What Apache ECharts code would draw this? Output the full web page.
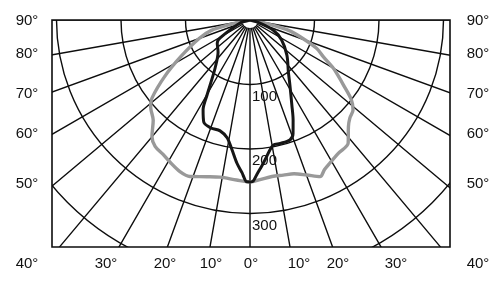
<!DOCTYPE html>
<html><head><meta charset="utf-8">
<script src="https://cdn.jsdelivr.net/npm/echarts/dist/echarts.min.js"></script>
<style>html,body{margin:0;padding:0;background:#fff}#c{width:500px;height:293px}</style>
</head><body><div id="c"></div>
<script>
// ---- data ----
const radialTicks = [100, 200, 300];
const sideLabels = ['90°', '80°', '70°', '60°', '50°', '40°'];
const bottomLabels = ['30°', '20°', '10°', '0°', '10°', '20°', '30°'];

const grayAngles = [-80, -77, -75, -70, -62, -56.6, -51.5, -48.7, -44, -40.1, -36.9, -33, -29.3, -24.8, -21, -15.4, -10.8, -4.8, 0,
  3.6, 8, 12.1, 16, 20.1, 24.1, 26.5, 29.2, 33.5, 38.6, 42.7, 45.5, 48.9, 51.8, 55.1, 58, 60, 63.4, 67, 71.5, 75, 77, 80];
const grayValues = [0, 34, 62, 84, 122, 158, 194, 205, 216, 236, 245, 248, 253, 259, 260, 252, 248, 249, 251,
  248, 245, 246, 248, 256, 266, 259, 254, 248, 244, 225, 217, 212, 200, 177, 160, 149, 127, 112, 82, 62, 34, 0];

const blackAngles = [-76, -73, -59, -55, -45, -36, -32.2, -29.8, -27.6, -24.3, -19.9, -15.1, -11, -7.9, -5.2, -3, -1.1, 0,
  1.1, 2.5, 5.3, 8.7, 10.6, 13.7, 18.4, 20.8, 23.3, 26.2, 31.6, 36.5, 46.4, 57.7, 66.5, 73, 76];
const blackValues = [0, 16, 54, 62, 70, 92, 113, 134, 157, 174, 178, 178, 186, 203, 223, 237, 251, 251,
  250, 240, 223, 204, 197, 197, 196, 188, 169, 147, 118, 100, 79, 58, 39, 16, 0];

// ---- layout ----
const CX = 250, CY = 20, PX_PER_CD = 0.645, RMAX = 480;
const BOX = {x: 52, y: 20, w: 398, h: 227};
const FONT_FAMILY = '"Liberation Sans", Arial, sans-serif';
const FONT = '15px ' + FONT_FAMILY;
const TXT = '#111';
const GRID = '#0d0d0d';
const sideY = [21, 54, 94, 134, 184, 264];
const bottomX = [106, 165, 211, 251, 299, 338, 396];
const bottomY = 264;

const chart = echarts.init(document.getElementById('c'), null, {renderer: 'canvas'});

const graphics = [
  {type: 'circle', z: 1, shape: {cx: CX, cy: CY, r: 8}, style: {fill: '#fff'}, silent: true},
  {type: 'rect', z: 50, shape: {x: 0, y: 0, width: BOX.x, height: 293}, style: {fill: '#fff'}, silent: true},
  {type: 'rect', z: 50, shape: {x: BOX.x + BOX.w, y: 0, width: 500 - BOX.x - BOX.w, height: 293}, style: {fill: '#fff'}, silent: true},
  {type: 'rect', z: 50, shape: {x: 0, y: 0, width: 500, height: BOX.y}, style: {fill: '#fff'}, silent: true},
  {type: 'rect', z: 50, shape: {x: 0, y: BOX.y + BOX.h, width: 500, height: 293 - BOX.y - BOX.h}, style: {fill: '#fff'}, silent: true},
  {type: 'rect', z: 51, shape: {x: BOX.x, y: BOX.y, width: BOX.w, height: BOX.h}, style: {fill: 'none', stroke: GRID, lineWidth: 1.6}, silent: true}
];
sideLabels.forEach((t, i) => {
  [27, 478].forEach(x => graphics.push({type: 'text', z: 52, silent: true,
    style: {text: t, x: x, y: sideY[i], font: FONT, fill: TXT, align: 'center', verticalAlign: 'middle'}}));
});
bottomLabels.forEach((t, i) => {
  graphics.push({type: 'text', z: 52, silent: true,
    style: {text: t, x: bottomX[i], y: bottomY, font: FONT, fill: TXT, align: 'center', verticalAlign: 'middle'}});
});

chart.setOption({
  animation: false,
  backgroundColor: '#fff',
  polar: {center: [CX, CY], radius: RMAX * PX_PER_CD},
  angleAxis: {
    type: 'value', min: -180, max: 180, interval: 10, startAngle: 90, clockwise: false, z: 0,
    axisLine: {show: false}, axisTick: {show: false}, axisLabel: {show: false},
    splitLine: {show: true, lineStyle: {color: GRID, width: 1.4}}
  },
  radiusAxis: {
    type: 'value', min: 0, max: RMAX, interval: 100, z: 0,
    axisLine: {show: false}, axisTick: {show: false}, axisLabel: {show: false},
    splitLine: {show: true, lineStyle: {color: GRID, width: 1.4}}
  },
  series: [
    {type: 'line', coordinateSystem: 'polar', name: 'gray', z: 3, clip: false,
     data: grayAngles.map((a, i) => [grayValues[i], a]), smooth: 0.3, showSymbol: false,
     lineStyle: {color: '#999999', width: 3.4}},
    {type: 'line', coordinateSystem: 'polar', name: 'black', z: 4, clip: false,
     data: blackAngles.map((a, i) => [blackValues[i], a]), smooth: 0.3, showSymbol: false,
     lineStyle: {color: '#161616', width: 3}},
    {type: 'scatter', coordinateSystem: 'polar', z: 5, symbolSize: 0,
     itemStyle: {color: '#000', opacity: 1},
     data: radialTicks.map(v => [v, 0]),
     label: {show: true, position: 'right', distance: 2, offset: [0, 12],
       formatter: p => String(p.value[0]),
       fontFamily: FONT_FAMILY, fontSize: 15, color: TXT, opacity: 1}}
  ],
  graphic: graphics
});
</script></body></html>
